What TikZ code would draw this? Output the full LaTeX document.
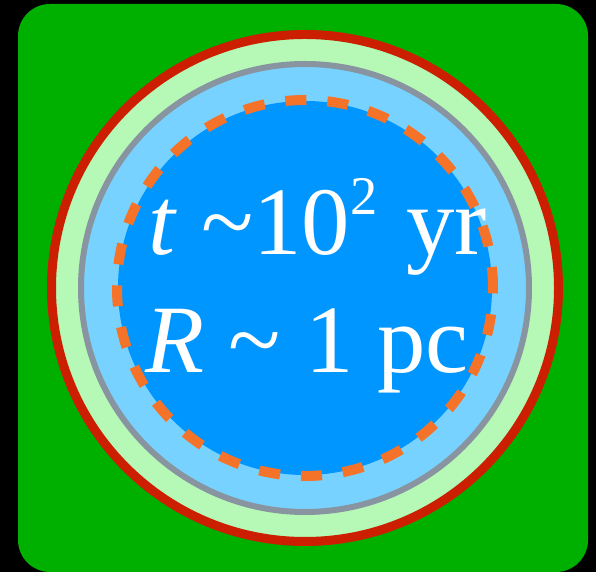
\documentclass[tikz,border=0pt]{standalone}
\usepackage{fontspec}
\setmainfont{Liberation Serif}
\definecolor{shgreen}{RGB}{0,176,0}
\definecolor{shred}{RGB}{204,30,0}
\definecolor{shlightgreen}{RGB}{182,248,182}
\definecolor{shgray}{RGB}{136,148,160}
\definecolor{shlightblue}{RGB}{120,210,255}
\definecolor{shblue}{RGB}{0,150,255}
\definecolor{shorange}{RGB}{245,115,40}
\usetikzlibrary{positioning}

\begin{document}
\begin{tikzpicture}[
  label/.style={text=white,anchor=base west,inner sep=0pt,font=\fontsize{55}{60}\selectfont}]
  % Background
  \fill[black] (0,0) rectangle (11.92,11.44);
  \useasboundingbox (0,0) rectangle (11.92,11.44);
  \fill[shgreen,rounded corners=0.64cm] (0.36,0) rectangle (11.76,11.36);
  % Shells
  \coordinate (c) at (6.10,5.68);
  \fill[shlightgreen] (c) circle (5.07);
  \draw[shred,line width=0.18cm] (c) circle (5.07);
  \fill[shlightblue] (c) circle (4.48);
  \draw[shgray,line width=0.12cm] (c) circle (4.48);
  \fill[shblue] (c) circle (3.74);
  \draw[shorange,line width=0.2cm,dash pattern=on 0.42cm off 0.42cm] (c) circle (3.76);
  % Labels
  \node[label] (age) at (2.96,6.34) {\textit{t} \textasciitilde10\raisebox{0.42em}{\fontsize{31}{31}\selectfont 2}\kern0.05em{} yr};
  \node[label] (radius) at (2.90,3.98) {\textit{R} \textasciitilde{} 1 pc};
\end{tikzpicture}
\end{document}
